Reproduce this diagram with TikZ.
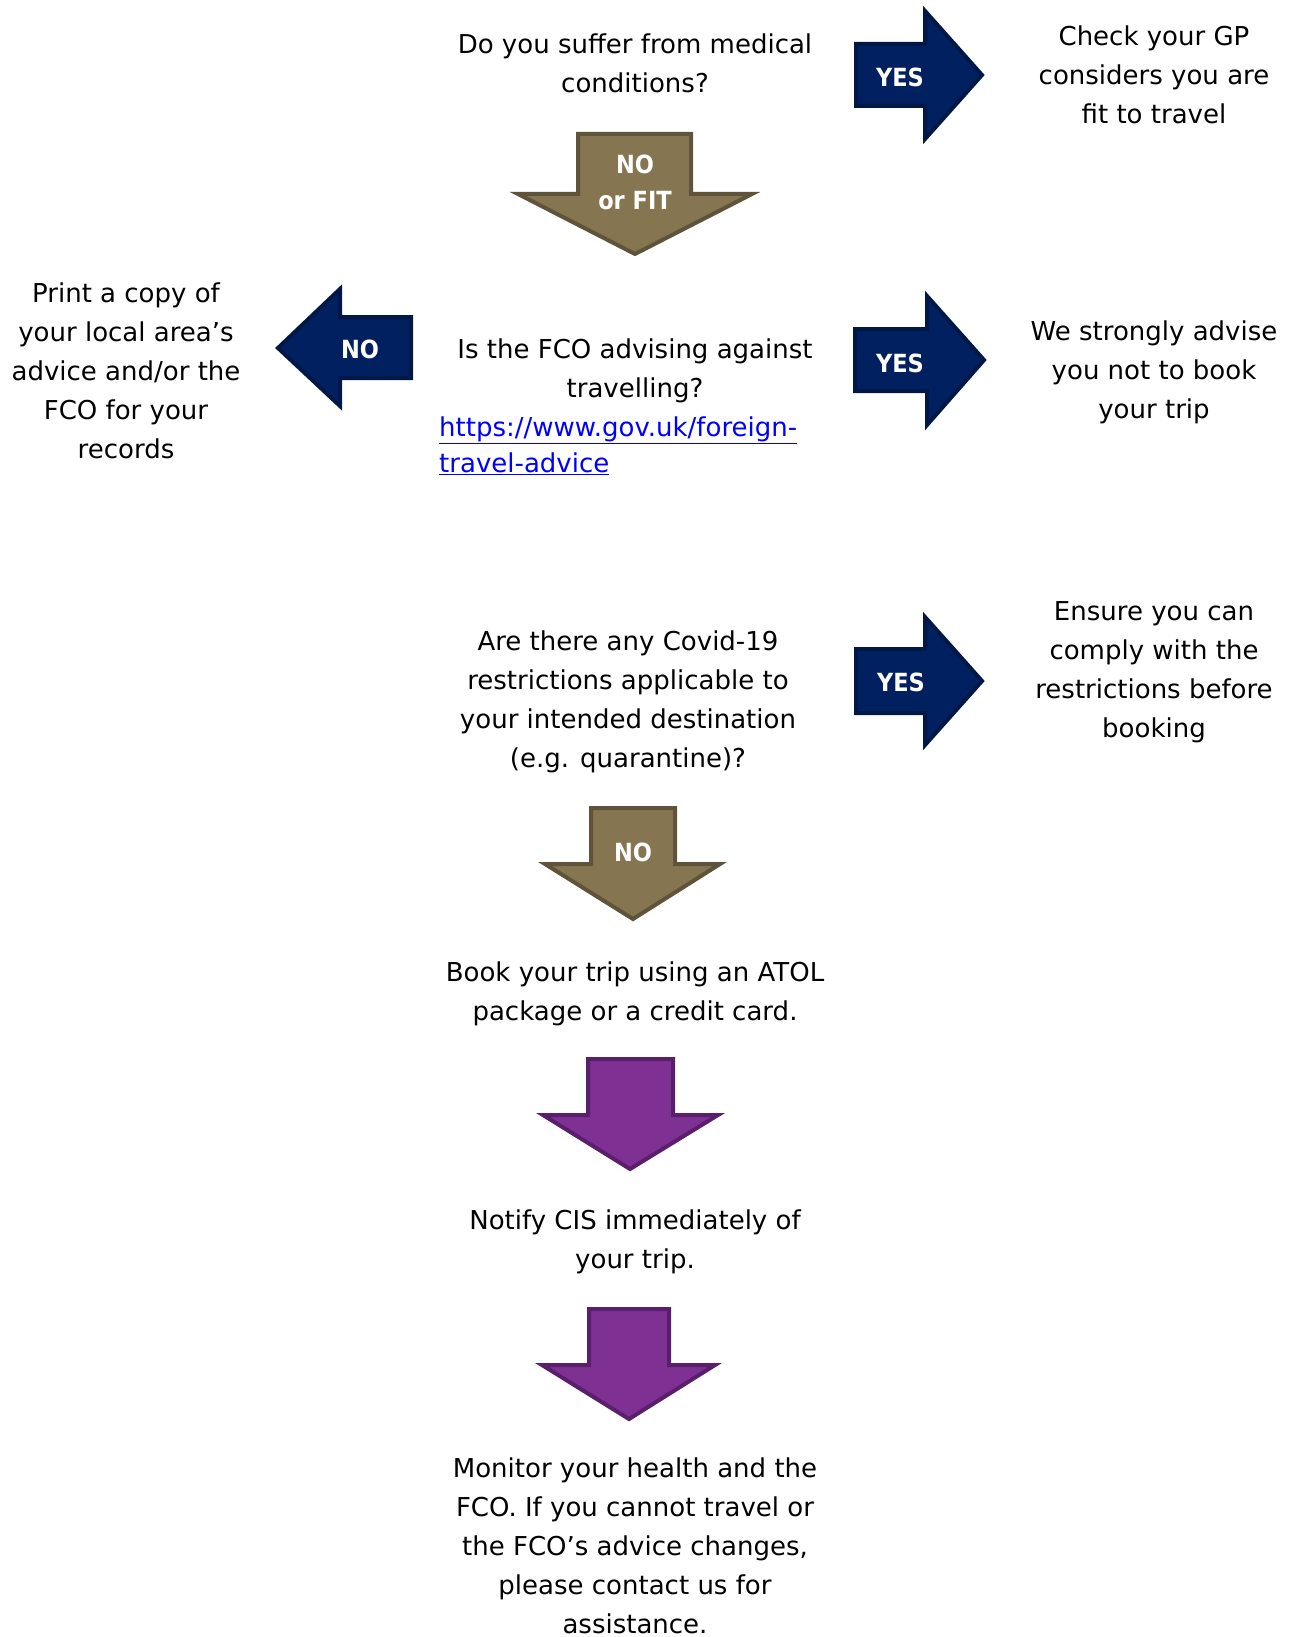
\documentclass[tikz,border=0pt]{standalone}
\usepackage{fontspec}
\setmainfont{DejaVu Sans}
\newfontfamily\lblfamily{DejaVu Sans Condensed}
\definecolor{navyfill}{HTML}{002060}
\definecolor{navyline}{HTML}{001848}
\definecolor{tanfill}{HTML}{857651}
\definecolor{tanline}{HTML}{5F533A}
\definecolor{purplefill}{HTML}{7F3193}
\definecolor{purpleline}{HTML}{5A1F6C}
\definecolor{linkblue}{HTML}{0000FF}
\begin{document}
\begin{tikzpicture}[x=1pt,y=-1pt,
  txt/.style={align=center, font=\fontsize{26}{39}\selectfont, text=black, inner sep=0pt},
  lbl/.style={align=center, font=\lblfamily\fontsize{25}{36}\selectfont\bfseries, text=white, inner sep=0pt},
  navyarrow/.style={fill=navyfill, draw=navyline, line width=4pt, line join=miter},
  tanarrow/.style={fill=tanfill, draw=tanline, line width=4pt, line join=miter},
  purplearrow/.style={fill=purplefill, draw=purpleline, line width=4pt, line join=miter}]
\useasboundingbox (0,0) rectangle (1291,1637);

% block arrows (paths inset so the outer edge of the border matches)
\draw[navyarrow] (856,44) -- (925,44) -- (925,11) -- (982,75) -- (925,139) -- (925,106) -- (856,106) -- cycle;
\draw[tanarrow] (578,134) -- (691,134) -- (691,194) -- (752,194) -- (635,254) -- (518,194) -- (578,194) -- cycle;
\draw[navyarrow] (411,317) -- (340,317) -- (340,289) -- (278,348) -- (340,406) -- (340,378) -- (411,378) -- cycle;
\draw[navyarrow] (855,329) -- (927,329) -- (927,296) -- (984,360) -- (927,425) -- (927,391) -- (855,391) -- cycle;
\draw[navyarrow] (856,649) -- (925,649) -- (925,617) -- (982,681) -- (925,745) -- (925,713) -- (856,713) -- cycle;
\draw[tanarrow] (591,808) -- (675,808) -- (675,864) -- (720,864) -- (633,919) -- (545,864) -- (591,864) -- cycle;
\draw[purplearrow] (588,1059) -- (673,1059) -- (673,1115) -- (718,1115) -- (630,1169) -- (543,1115) -- (588,1115) -- cycle;
\draw[purplearrow] (589,1309) -- (669,1309) -- (669,1365) -- (715,1365) -- (629,1419) -- (542,1365) -- (589,1365) -- cycle;

% arrow labels
\node[lbl] (yes1) at (900,77) {YES};
\node[lbl] (nofit) at (635,182) {NO\\or FIT};
\node[lbl] (no1) at (360,349) {NO};
\node[lbl] (yes2) at (900,363) {YES};
\node[lbl] (yes3) at (901,682) {YES};
\node[lbl] (no2) at (633,852) {NO};

% texts
\node[txt] (q1) at (635,63) {Do you suffer from medical\\conditions?};
\node[txt] (gp) at (1154,75) {Check your GP\\considers you are\\fit to travel};
\node[txt] (print) at (126,371) {Print a copy of\\your local area’s\\advice and/or the\\FCO for your\\records};
\node[txt] (fco) at (635,371) {Is the FCO advising against\\travelling?};
\node[anchor=west, align=left, inner sep=0pt, text=linkblue, font=\fontsize{26}{36}\selectfont] (url) at (439,446) {\underline{https://www.gov.uk/foreign-}\\\underline{travel-advice}};
\node[txt] (advise) at (1154,372) {We strongly advise\\you not to book\\your trip};
\node[txt] (covid) at (628,702) {Are there any Covid-19\\restrictions applicable to\\your intended destination\\(e.g. quarantine)?};
\node[txt] (ensure) at (1154,672) {Ensure you can\\comply with the\\restrictions before\\booking};
\node[txt] (book) at (635,994) {Book your trip using an ATOL\\package or a credit card.};
\node[txt] (notify) at (635,1242) {Notify CIS immediately of\\your trip.};
\node[txt] (monitor) at (635,1546) {Monitor your health and the\\FCO. If you cannot travel or\\the FCO’s advice changes,\\please contact us for\\assistance.};
\end{tikzpicture}
\end{document}
